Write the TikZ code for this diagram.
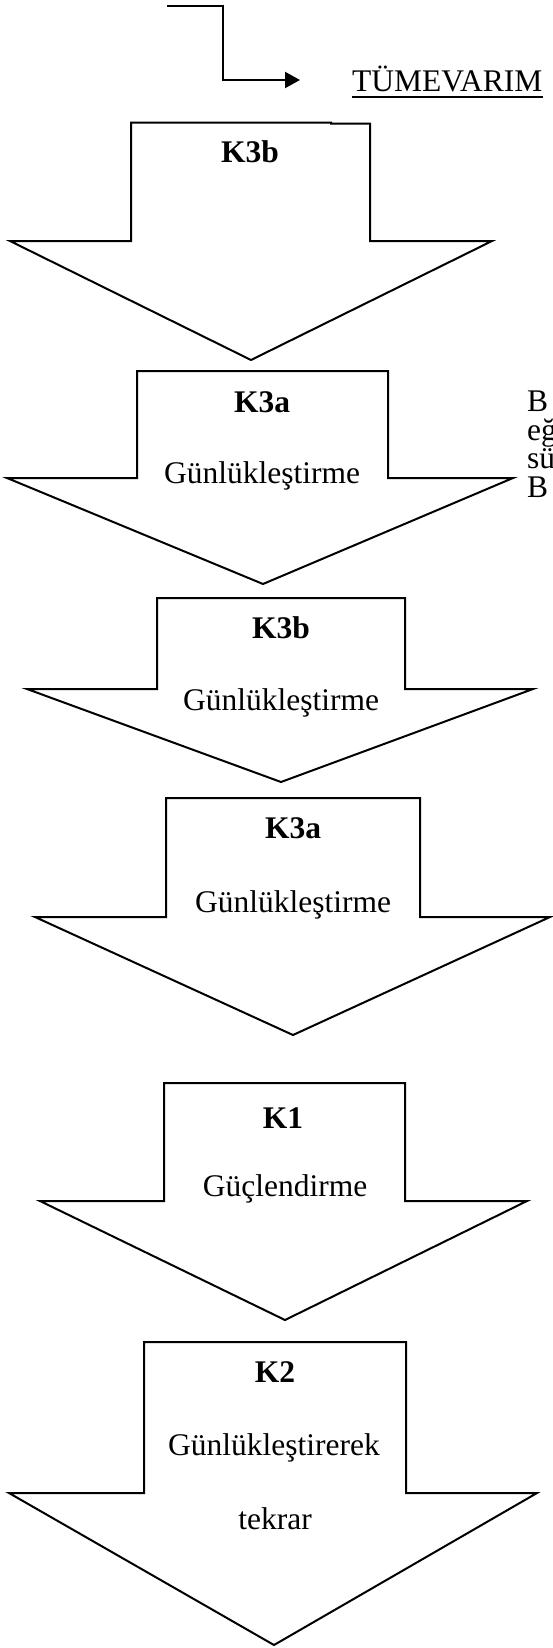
\documentclass[tikz,border=0pt]{standalone}
\usepackage{fontspec}
\setmainfont{Liberation Serif}
\usetikzlibrary{arrows.meta}
\newcommand\bigarrowshape[9]{%
  % #1 name, #2 rect left, #3 rect right, #4 top, #5 shoulder, #6 wing left, #7 wing right, #8 tip x, #9 tip y
  \draw[boxline] (#2,#5) -- (#2,#4) -- (#3,#4) -- (#3,#5) -- (#7,#5) -- (#8,#9) -- (#6,#5) -- cycle;
  \coordinate (#1tip) at (#8,#9);
}
\begin{document}
\begin{tikzpicture}[x=1pt,y=-1pt,
  boxline/.style={line width=2pt, line join=miter, draw=black},
  lbl/.style={inner sep=0pt, anchor=base, font=\fontsize{31.5}{37}\selectfont},
  boldlbl/.style={lbl, font=\fontsize{31.5}{37}\selectfont\bfseries},
  sidetxt/.style={inner sep=0pt, anchor=base west, font=\fontsize{31.5}{37}\selectfont}]
\useasboundingbox (0,0) rectangle (552,1648);
\fill[white] (0,0) rectangle (552,1648);

% top elbow connector
\coordinate (elbowstart) at (167,6);
\coordinate (elbowcorner) at (223,6);
\coordinate (elbowend) at (300,80);
\node[sidetxt] (tume) at (352,92) {TÜMEVARIM};
\draw[line width=2.2pt, -{Triangle[length=15pt,width=16pt]}] (elbowstart) -- (elbowcorner) |- (elbowend);
\draw[line width=1.5pt] ([yshift=-5pt]tume.base west) -- ([yshift=-5pt]tume.base east);

% arrow 1 (top edge has a small step)
\draw[boxline] (131,241) -- (131,122.7) -- (331,122.7) -- (331,123.7) -- (370,123.7) -- (370,241) -- (492,241) -- (251,360) -- (10,241) -- cycle;
\node[boldlbl] (a1k) at (250,163) {K3b};

% arrow 2
\bigarrowshape{a2}{137}{388}{371}{478}{7}{513}{263}{584}
\node[boldlbl] (a2k) at (262,412) {K3a};
\node[lbl] (a2t) at (262,483) {Günlükleştirme};

% side text (cut by page edge)
\node[sidetxt] (s1) at (527,411) {B};
\node[sidetxt] (s2) at (527,440) {eğ};
\node[sidetxt] (s3) at (527,468) {sü};
\node[sidetxt] (s4) at (527,497) {B};

% arrow 3
\bigarrowshape{a3}{157}{405}{598}{689}{27}{533}{281}{782}
\node[boldlbl] (a3k) at (281,638) {K3b};
\node[lbl] (a3t) at (281,710) {Günlükleştirme};

% arrow 4
\bigarrowshape{a4}{166}{420}{798}{917}{35}{550}{293}{1035}
\node[boldlbl] (a4k) at (293,838) {K3a};
\node[lbl] (a4t) at (293,912) {Günlükleştirme};

% arrow 5
\bigarrowshape{a5}{164}{405}{1083}{1201}{40}{527}{285}{1320}
\node[boldlbl] (a5k) at (283,1128) {K1};
\node[lbl] (a5t) at (285,1196) {Güçlendirme};

% arrow 6
\bigarrowshape{a6}{144}{406}{1342}{1493}{9}{537}{274}{1645}
\node[boldlbl] (a6k) at (275,1382) {K2};
\node[lbl] (a6t) at (274,1455) {Günlükleştirerek};
\node[lbl] (a6u) at (275,1529) {tekrar};
\end{tikzpicture}
\end{document}
